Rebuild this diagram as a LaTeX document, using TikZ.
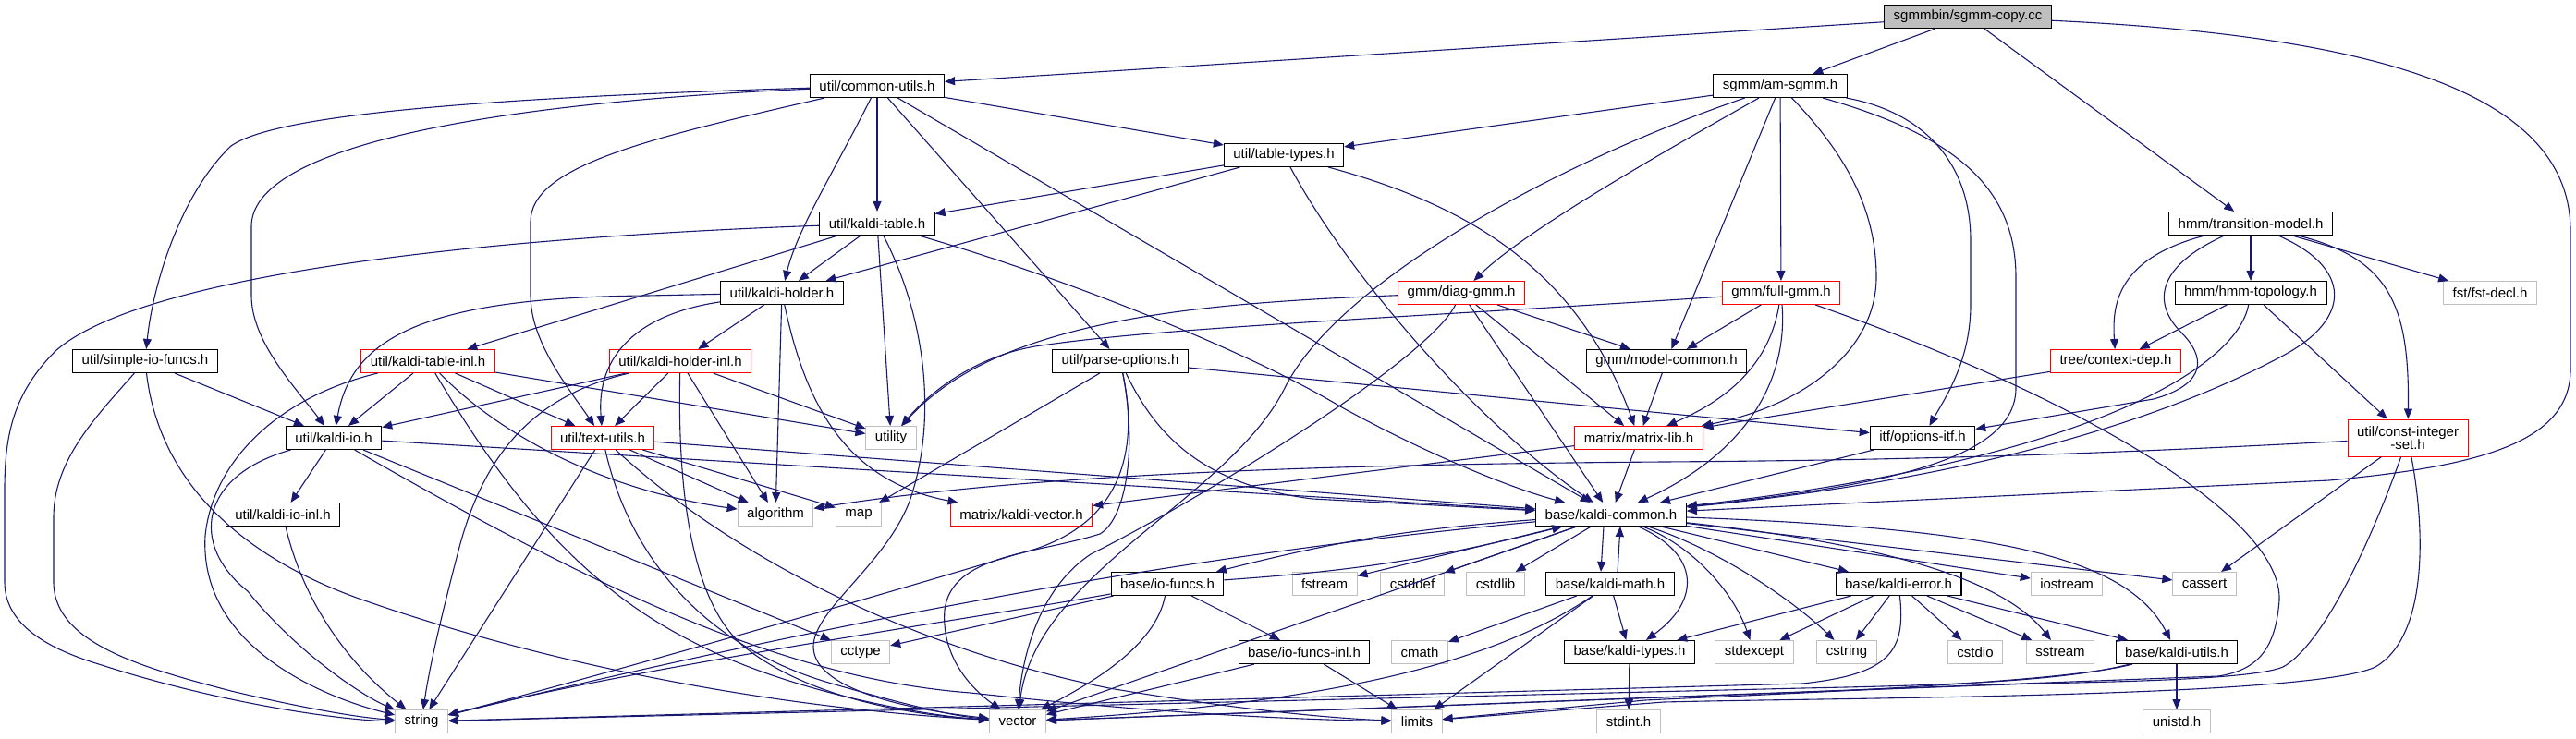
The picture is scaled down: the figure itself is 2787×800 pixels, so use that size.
\documentclass[tikz,border=0pt]{standalone}
\usepackage{fontspec}
\newfontfamily\gf{Liberation Sans}
\usetikzlibrary{arrows.meta,calc}
\definecolor{edgec}{HTML}{191970}
\definecolor{grayb}{HTML}{BFBFBF}
\begin{document}
\begin{tikzpicture}[x=1pt,y=-1pt,
  box/.style={rectangle,minimum height=25pt,inner xsep=10pt,inner ysep=0pt,font=\gf\fontsize{15}{14}\selectfont,fill=white},
  nb/.style={box,draw=black,line width=1.1pt},
  rb/.style={box,draw=red,line width=1pt},
  gb/.style={box,draw=grayb,line width=1pt},
  edg/.style={draw=edgec,line width=1.1pt,-{Triangle[length=11pt,width=9pt]}}]
\useasboundingbox (0,0) rectangle (2787,800);
% nodes
\node[nb,fill=grayb] (root) at (2129,18) {sgmmbin/sgmm-copy.cc};
\node[nb] (cu) at (949,93) {util/common-utils.h};
\node[nb] (am) at (1926,93) {sgmm/am-sgmm.h};
\node[nb] (tt) at (1389,168) {util/table-types.h};
\node[nb] (kt) at (949,242) {util/kaldi-table.h};
\node[nb] (tm) at (2435,242) {hmm/transition-model.h};
\node[nb] (kh) at (846,317) {util/kaldi-holder.h};
\node[rb] (dg) at (1581,317) {gmm/diag-gmm.h};
\node[rb] (fg) at (1927,317) {gmm/full-gmm.h};
\node[nb] (ht) at (2435,317) {hmm/hmm-topology.h};
\node[gb] (fst) at (2694,317) {fst/fst-decl.h};
\node[nb] (sio) at (157,391) {util/simple-io-funcs.h};
\node[rb] (kti) at (463,391) {util/kaldi-table-inl.h};
\node[rb] (khi) at (736,391) {util/kaldi-holder-inl.h};
\node[nb] (po) at (1212,391) {util/parse-options.h};
\node[nb] (mc) at (1803,391) {gmm/model-common.h};
\node[rb] (cd) at (2289,391) {tree/context-dep.h};
\node[nb] (kio) at (361,474) {util/kaldi-io.h};
\node[rb] (tu) at (652,474) {util/text-utils.h};
\node[gb] (nutil) at (964,474) {utility};
\node[rb] (ml) at (1773,474) {matrix/matrix-lib.h};
\node[nb] (oi) at (2080,474) {itf/options-itf.h};
\node[rb,minimum height=40pt,align=center] (cis) at (2605,474) {util/const-integer\\-set.h};
\node[nb] (kioi) at (306,557) {util/kaldi-io-inl.h};
\node[gb] (nalg) at (839,557) {algorithm};
\node[gb] (nmap) at (929,557) {map};
\node[rb] (kv) at (1105,557) {matrix/kaldi-vector.h};
\node[nb] (kc) at (1743,557) {base/kaldi-common.h};
\node[nb] (iof) at (1263,632) {base/io-funcs.h};
\node[gb] (nfstream) at (1433,632) {fstream};
\node[gb] (ncstddef) at (1528,632) {cstddef};
\node[gb] (ncstdlib) at (1618,632) {cstdlib};
\node[nb] (km) at (1742,632) {base/kaldi-math.h};
\node[nb] (ke) at (2054,632) {base/kaldi-error.h};
\node[gb] (niostream) at (2236,632) {iostream};
\node[gb] (ncassert) at (2385,632) {cassert};
\node[gb] (ncctype) at (931,706) {cctype};
\node[nb] (iofi) at (1411,706) {base/io-funcs-inl.h};
\node[gb] (ncmath) at (1536,706) {cmath};
\node[nb] (kty) at (1763,706) {base/kaldi-types.h};
\node[gb] (nstdexcept) at (1898,706) {stdexcept};
\node[gb] (ncstring) at (1998,706) {cstring};
\node[gb] (ncstdio) at (2137,706) {cstdio};
\node[gb] (nsstream) at (2229,706) {sstream};
\node[nb] (ku) at (2355,706) {base/kaldi-utils.h};
\node[gb] (nstring) at (456,781) {string};
\node[gb] (nvector) at (1101,781) {vector};
\node[gb] (nlimits) at (1533,781) {limits};
\node[gb] (nstdint) at (1762,781) {stdint.h};
\node[gb] (nunistd) at (2355,781) {unistd.h};
% root
\draw[edg] (root) -- (cu);
\draw[edg] (root) -- (am);
\draw[edg] (root) -- (tm);
\draw[edg] (root) .. controls (2600,40) and (2781,110) .. (2781,250) -- (2781,400) .. controls (2781,480) and (2680,505) .. (2520,520) -- (kc);
% common-utils
\draw[edg] (cu) .. controls (450,108) and (290,130) .. (250,158) .. controls (195,210) and (165,310) .. (sio);
\draw[edg] (cu) .. controls (520,112) and (272,160) .. (272,245) -- (272,320) .. controls (272,370) and (320,420) .. (kio);
\draw[edg] (cu) .. controls (700,150) and (574,180) .. (574,240) -- (574,320) .. controls (574,370) and (615,420) .. (tu);
\draw[edg] (cu) .. controls (900,190) and (862,250) .. (kh);
\draw[edg] (cu) -- (kt);
\draw[edg] (cu) -- (tt);
\draw[edg] (cu) -- (po);
\draw[edg] (cu) -- (kc);
% table-types
\draw[edg] (tt) -- (kt);
\draw[edg] (tt) -- (kh);
\draw[edg] (tt) .. controls (1460,300) and (1600,460) .. (kc);
\draw[edg] (tt) .. controls (1600,225) and (1710,300) .. (ml);
% am-sgmm
\draw[edg] (am) -- (tt);
\draw[edg] (am) .. controls (1700,170) and (1450,300) .. (1390,420) .. controls (1330,540) and (1120,620) .. (nvector);
\draw[edg] (am) .. controls (1790,170) and (1650,250) .. (dg);
\draw[edg] (am) -- (mc);
\draw[edg] (am) -- (fg);
\draw[edg] (am) .. controls (2000,170) and (2030,230) .. (2030,300) .. controls (2030,380) and (1950,440) .. (ml);
\draw[edg] (am) .. controls (2085,122) and (2132,180) .. (2132,260) -- (2132,330) .. controls (2132,390) and (2105,430) .. (oi);
\draw[edg] (am) .. controls (2110,145) and (2181,200) .. (2181,300) -- (2181,420) .. controls (2181,495) and (2050,525) .. (kc);
% transition-model
\draw[edg] (tm) .. controls (2290,280) and (2285,330) .. (cd);
\draw[edg] (tm) .. controls (2330,290) and (2330,330) .. (2360,360) .. controls (2385,385) and (2390,415) .. (2330,432) -- (oi);
\draw[edg] (tm) -- (ht);
\draw[edg] (tm) .. controls (2545,290) and (2545,345) .. (2470,385) .. controls (2330,460) and (2120,520) .. (kc);
\draw[edg] (tm) -- (fst);
\draw[edg] (tm) .. controls (2585,280) and (2607,330) .. (cis);
% hmm-topology
\draw[edg] (ht) -- (cd);
\draw[edg] (ht) .. controls (2420,400) and (2250,500) .. (kc);
\draw[edg] (ht) -- (cis);
% diag-gmm
\draw[edg] (dg) .. controls (1300,328) and (1080,345) .. (nutil);
\draw[edg] (dg) -- (mc);
\draw[edg] (dg) -- (ml);
\draw[edg] (dg) -- (kc);
\draw[edg] (dg) .. controls (1545,390) and (1300,540) .. (1180,600) .. controls (1120,640) and (1105,720) .. (nvector);
% full-gmm
\draw[edg] (fg) .. controls (1500,345) and (1250,355) .. (1120,375) .. controls (1060,385) and (1010,420) .. (nutil);
\draw[edg] (fg) -- (mc);
\draw[edg] (fg) .. controls (1915,390) and (1875,430) .. (ml);
\draw[edg] (fg) .. controls (1935,420) and (1880,495) .. (kc);
\draw[edg] (fg) .. controls (2250,430) and (2470,560) .. (2466,650) .. controls (2462,700) and (2445,725) .. (2400,732) -- (nvector);
% misc
\draw[edg] (mc) -- (ml);
\draw[edg] (cd) -- (ml);
\draw[edg] (ml) -- (kv);
\draw[edg] (ml) -- (kc);
\draw[edg] (oi) -- (kc);
% parse-options
\draw[edg] (po) -- (nmap);
\draw[edg] (po) -- (oi);
\draw[edg] (po) .. controls (1250,470) and (1300,525) .. (1420,540) -- (kc);
\draw[edg] (po) .. controls (1235,500) and (1205,575) .. (1100,600) .. controls (900,660) and (600,745) .. (nstring);
\draw[edg] (po) .. controls (1230,480) and (1220,560) .. (1190,578) .. controls (1120,600) and (1030,600) .. (1022,660) .. controls (1018,710) and (1050,745) .. (nvector);
% kaldi-table
\draw[edg] (kt) -- (kti);
\draw[edg] (kt) -- (kh);
\draw[edg] (kt) .. controls (500,258) and (150,300) .. (60,380) .. controls (15,425) and (5,470) .. (5,530) -- (5,630) .. controls (5,680) and (60,705) .. (110,720) .. controls (250,765) and (380,780) .. (nstring);
\draw[edg] (kt) -- (nutil);
\draw[edg] (kt) .. controls (1000,340) and (1015,450) .. (985,540) .. controls (960,610) and (880,660) .. (880,700) .. controls (880,750) and (1000,770) .. (nvector);
\draw[edg] (kt) .. controls (1150,300) and (1350,380) .. (1450,440) .. controls (1550,495) and (1640,530) .. (kc);
% kaldi-holder
\draw[edg] (kh) -- (700,320) .. controls (450,322) and (380,370) .. (kio);
\draw[edg] (kh) .. controls (690,340) and (645,385) .. (tu);
\draw[edg] (kh) -- (khi);
\draw[edg] (kh) -- (nalg);
\draw[edg] (kh) .. controls (870,430) and (910,520) .. (kv);
% kaldi-holder-inl
\draw[edg] (khi) -- (kio);
\draw[edg] (khi) -- (tu);
\draw[edg] (khi) .. controls (570,430) and (520,500) .. (495,600) .. controls (478,665) and (465,720) .. (nstring);
\draw[edg] (khi) .. controls (733,520) and (745,650) .. (805,700) .. controls (880,760) and (1000,775) .. (nvector);
\draw[edg] (khi) -- (nalg);
\draw[edg] (khi) -- (nutil);
% kaldi-table-inl
\draw[edg] (kti) -- (kio);
\draw[edg] (kti) -- (tu);
\draw[edg] (kti) .. controls (300,430) and (230,500) .. (222,580) .. controls (215,700) and (350,755) .. (nstring);
\draw[edg] (kti) .. controls (540,520) and (620,630) .. (750,695) .. controls (850,748) and (1000,775) .. (nvector);
\draw[edg] (kti) .. controls (540,470) and (650,530) .. (nalg);
\draw[edg] (kti) -- (nutil);
% simple-io-funcs
\draw[edg] (sio) -- (kio);
\draw[edg] (sio) .. controls (100,455) and (58,500) .. (58,560) -- (58,630) .. controls (58,695) and (150,722) .. (250,748) .. controls (330,767) and (390,777) .. (nstring);
\draw[edg] (sio) .. controls (172,520) and (260,605) .. (400,652) .. controls (650,738) and (900,770) .. (nvector);
% kaldi-io
\draw[edg] (kio) -- (kioi);
\draw[edg] (kio) .. controls (215,515) and (205,590) .. (268,640) .. controls (320,705) and (390,752) .. (nstring);
\draw[edg] (kio) -- (kc);
\draw[edg] (kio) -- (ncctype);
\draw[edg] (kio) .. controls (650,640) and (850,735) .. (1050,750) .. controls (1250,772) and (1400,779) .. (nlimits);
\draw[edg] (kioi) .. controls (330,660) and (385,725) .. (nstring);
% text-utils
\draw[edg] (tu) -- (nalg);
\draw[edg] (tu) -- (nmap);
\draw[edg] (tu) -- (kc);
\draw[edg] (tu) -- (nstring);
\draw[edg] (tu) .. controls (680,600) and (760,700) .. (900,740) .. controls (980,763) and (1030,775) .. (nvector);
\draw[edg] (tu) .. controls (800,610) and (1000,705) .. (1200,745) .. controls (1350,770) and (1450,778) .. (nlimits);
% kaldi-common
\draw[edg] (kc) to[bend right=5] (iof);
\draw[edg] (iof) to[bend right=5] (kc);
\draw[edg] (kc) .. controls (1450,585) and (1100,625) .. (nstring);
\draw[edg] (kc) -- (nvector);
\draw[edg] (kc) -- (nfstream);
\draw[edg] (kc) -- (ncstddef);
\draw[edg] (kc) -- (ncstdlib);
\draw[edg] ($(kc.south)+(-8,0)$) -- ($(km.north)+(-10,0)$);
\draw[edg] ($(km.north)+(8,0)$) -- ($(kc.south)+(10,0)$);
\draw[edg] (kc) .. controls (1840,600) and (1840,650) .. (kty);
\draw[edg] (kc) .. controls (1830,590) and (1875,640) .. (nstdexcept);
\draw[edg] (kc) .. controls (1860,595) and (1940,650) .. (ncstring);
\draw[edg] (kc) -- (ke);
\draw[edg] (kc) -- (niostream);
\draw[edg] (kc) -- (ncassert);
\draw[edg] (kc) .. controls (2050,590) and (2170,630) .. (nsstream);
\draw[edg] (kc) .. controls (2150,572) and (2300,600) .. (ku);
% kaldi-math
\draw[edg] (km) -- (ncmath);
\draw[edg] (km) -- (kty);
\draw[edg] (km) -- (nlimits);
\draw[edg] (km) .. controls (1620,715) and (1450,760) .. (nvector);
% io-funcs
\draw[edg] (iof) -- (ncctype);
\draw[edg] (iof) .. controls (1050,670) and (700,720) .. (nstring);
\draw[edg] (iof) .. controls (1250,700) and (1180,740) .. (nvector);
\draw[edg] (iof) -- (iofi);
\draw[edg] (iofi) -- (nvector);
\draw[edg] (iofi) -- (nlimits);
\draw[edg] (kty) -- (nstdint);
% kaldi-error
\draw[edg] (ke) -- (kty);
\draw[edg] (ke) -- (nstdexcept);
\draw[edg] (ke) -- (ncstring);
\draw[edg] (ke) .. controls (2062,705) and (2045,730) .. (1950,740) -- (nstring);
\draw[edg] (ke) -- (ncstdio);
\draw[edg] (ke) -- (nsstream);
\draw[edg] (ke) -- (ku);
% kaldi-utils
\draw[edg] (ku) -- (nunistd);
\draw[edg] (ku) .. controls (2230,738) and (2100,742) .. (1950,745) -- (nstring);
\draw[edg] (ku) .. controls (2230,740) and (1900,752) .. (1780,758) -- (nlimits);
% const-integer-set
\draw[edg] (cis) .. controls (2300,490) and (2100,498) .. (1800,500) .. controls (1400,503) and (1100,515) .. (nalg);
\draw[edg] (cis) -- (ncassert);
\draw[edg] (cis) .. controls (2560,600) and (2510,700) .. (2470,722) .. controls (2440,735) and (2300,738) .. (2200,740) -- (nvector);
\draw[edg] (cis) .. controls (2625,580) and (2625,690) .. (2570,722) .. controls (2500,755) and (2000,755) .. (1800,760) -- (nlimits);
\end{tikzpicture}
\end{document}
